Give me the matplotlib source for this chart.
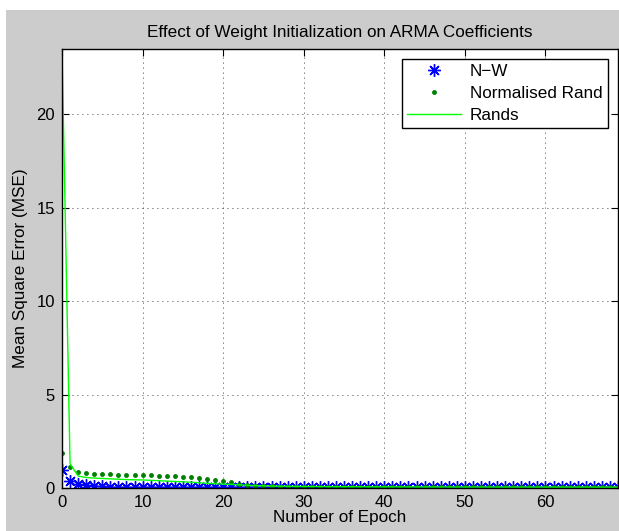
import matplotlib
matplotlib.use("Agg")
import matplotlib.pyplot as plt
from matplotlib.patches import Rectangle

plt.rcParams['font.family'] = ['Liberation Sans', 'DejaVu Sans']

# MSE per epoch
nw = [0.97, 0.35, 0.20, 0.14, 0.11, 0.09, 0.08, 0.07, 0.065, 0.06,
      0.058, 0.056, 0.054, 0.052, 0.05, 0.049, 0.048, 0.047, 0.046, 0.045,
      0.044, 0.043, 0.042, 0.041, 0.04, 0.04, 0.039, 0.039, 0.038, 0.038,
      0.037, 0.037, 0.036, 0.036, 0.035, 0.035, 0.035, 0.034, 0.034, 0.034,
      0.033, 0.033, 0.033, 0.032, 0.032, 0.032, 0.032, 0.031, 0.031, 0.031,
      0.031, 0.03, 0.03, 0.03, 0.03, 0.03, 0.03, 0.029, 0.029, 0.029,
      0.029, 0.029, 0.029, 0.028, 0.028, 0.028, 0.028, 0.028, 0.028, 0.028]
norm_rand = [1.85, 1.15, 0.87, 0.78, 0.76, 0.75, 0.73, 0.72, 0.70, 0.69,
             0.68, 0.67, 0.66, 0.65, 0.63, 0.61, 0.58, 0.54, 0.49, 0.43,
             0.37, 0.30, 0.23, 0.17, 0.13, 0.10, 0.085, 0.075, 0.068, 0.063,
             0.06, 0.058, 0.056, 0.055, 0.054, 0.053, 0.052, 0.051, 0.05, 0.05,
             0.049, 0.049, 0.048, 0.048, 0.047, 0.047, 0.046, 0.046, 0.046, 0.045,
             0.045, 0.045, 0.044, 0.044, 0.044, 0.043, 0.043, 0.043, 0.043, 0.042,
             0.042, 0.042, 0.042, 0.041, 0.041, 0.041, 0.041, 0.04, 0.04, 0.04]
rands = [23.5, 1.30, 0.64, 0.56, 0.53, 0.51, 0.49, 0.47, 0.45, 0.44,
         0.43, 0.41, 0.39, 0.37, 0.35, 0.33, 0.31, 0.28, 0.25, 0.23,
         0.21, 0.19, 0.17, 0.15, 0.13, 0.12, 0.11, 0.10, 0.095, 0.09,
         0.085, 0.08, 0.078, 0.075, 0.072, 0.07, 0.068, 0.066, 0.064, 0.062,
         0.06, 0.059, 0.058, 0.057, 0.056, 0.055, 0.054, 0.053, 0.052, 0.051,
         0.05, 0.05, 0.049, 0.049, 0.048, 0.048, 0.047, 0.047, 0.046, 0.046,
         0.045, 0.045, 0.045, 0.044, 0.044, 0.044, 0.043, 0.043, 0.043, 0.043]
epochs = list(range(len(nw)))

fig = plt.figure(figsize=(6.19, 5.31), dpi=100, facecolor='white')
# grey panel, with the thin white margin at left and top
fig.patches.append(Rectangle((6/619, 0), 1, 521/531, transform=fig.transFigure,
                             facecolor='#cccccc', edgecolor='none', zorder=-10))
ax = fig.add_axes([62/619, 43/531, 556/619, 439/531])

ax.plot(epochs, nw, linestyle='none', marker=(8, 2, 0), color='blue',
        markersize=9, markeredgewidth=1, label='N\u2212W')
ax.plot(epochs, norm_rand, '.', color='#008000', markersize=5, label='Normalised Rand')
ax.plot(epochs, rands, '-', color='#00ff00', linewidth=1, label='Rands')

ax.set_xlim(0, 69)
ax.set_ylim(0, 23.5)
ax.set_xticks([0, 10, 20, 30, 40, 50, 60])
ax.set_yticks([0, 5, 10, 15, 20])
ax.tick_params(direction='in', labelsize=12, length=5, top=True, right=True, pad=5)
ax.grid(True, linestyle=(0, (1, 5)), color='black', linewidth=0.6)
for s in ax.spines.values():
    s.set_linewidth(1)
ax.set_title('Effect of Weight Initialization on ARMA Coefficients', fontsize=12.3, pad=9)
ax.set_xlabel('Number of Epoch', fontsize=12.3, labelpad=0)
ax.set_ylabel('Mean Square Error (MSE)', fontsize=12.3, labelpad=6)

leg = ax.legend(loc='upper right', fontsize=12.3, fancybox=False, framealpha=1,
                edgecolor='black', borderaxespad=0.6, handlelength=3.2,
                borderpad=0.3, labelspacing=0.4, handletextpad=0.5)
leg.get_frame().set_linewidth(1)

plt.savefig('out.png', facecolor=fig.get_facecolor())
